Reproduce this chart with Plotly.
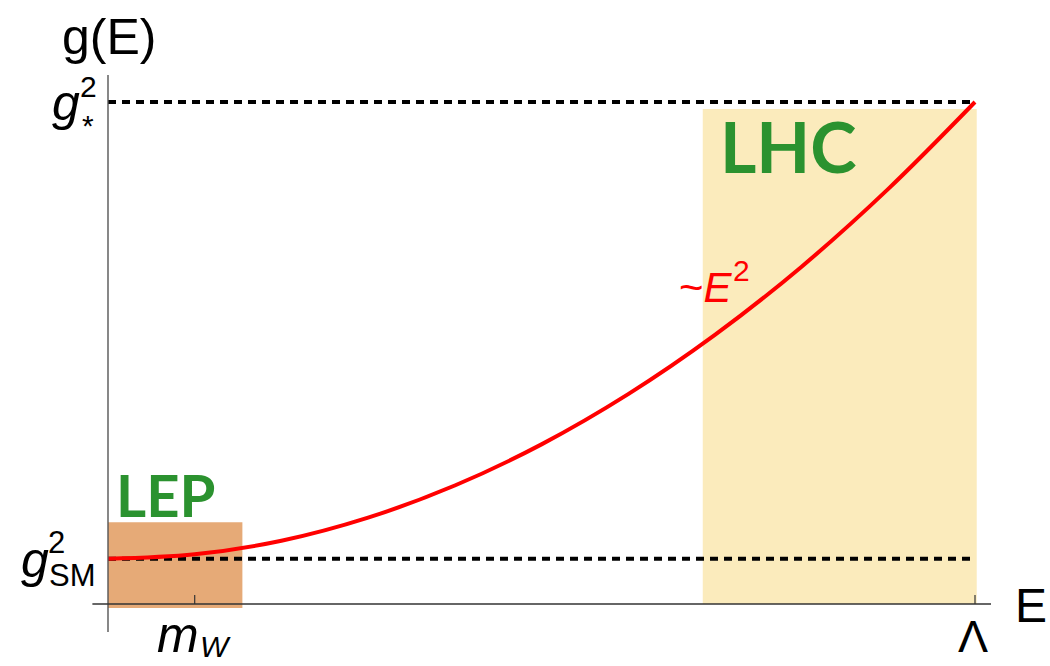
import plotly.graph_objects as go

# Energy (in units of the cutoff Lambda) and coupling strength g(E)
energy = [0.0, 0.1, 0.2, 0.3, 0.4, 0.5, 0.6, 0.7, 0.8, 0.9, 1.0]
coupling = [0.09, 0.099, 0.126, 0.172, 0.236, 0.318, 0.418, 0.536, 0.672, 0.827, 1.0]

g_sm = 0.09          # g_SM^2 level
g_star = 1.0         # g_*^2 level
e_mw = 0.1           # m_W tick
e_lambda = 1.0       # Lambda tick

# Experimental reach regions: (x0, x1, y0, y1)
lep_region = (0.0, 0.155, -0.008, 0.163)
lhc_region = (0.686, 1.002, 0.0, 0.986)

fig = go.Figure()

fig.add_trace(go.Scatter(
    x=energy, y=coupling, mode="lines",
    line=dict(color="#ff0000", width=4, shape="spline"),
    hoverinfo="skip", showlegend=False,
))

shapes = []
# shaded regions
shapes.append(dict(type="rect", xref="x", yref="y", layer="below",
                   x0=lep_region[0], x1=lep_region[1], y0=lep_region[2], y1=lep_region[3],
                   fillcolor="#e6aa77", line=dict(width=0)))
shapes.append(dict(type="rect", xref="x", yref="y", layer="below",
                   x0=lhc_region[0], x1=lhc_region[1], y0=lhc_region[2], y1=lhc_region[3],
                   fillcolor="#fbebbc", line=dict(width=0)))
# dashed reference levels
for level in (g_sm, g_star):
    shapes.append(dict(type="line", xref="x", yref="y", layer="below",
                       x0=0.0, x1=e_lambda, y0=level, y1=level,
                       line=dict(color="black", width=4, dash="8px,6px")))
# axes
shapes.append(dict(type="line", xref="x", yref="y", x0=0.0, x1=0.0, y0=-0.056, y1=1.054,
                   line=dict(color="#555555", width=1.4)))
shapes.append(dict(type="line", xref="x", yref="y", x0=-0.018, x1=1.0185, y0=0.0, y1=0.0,
                   line=dict(color="#333333", width=1.4)))
# ticks
for t in (e_mw, e_lambda):
    shapes.append(dict(type="line", xref="x", yref="y", x0=t, x1=t, y0=0.0, y1=0.018,
                       line=dict(color="#333333", width=1.2)))

fig.update_layout(shapes=shapes)

FONT = "Liberation Sans, Arial, sans-serif"
GREEN = "#2b922f"


def label(text, x, y, size, color="black", xanchor="center", yanchor="middle",
          family=FONT, weight="normal"):
    fig.add_annotation(x=x, y=y, xref="x", yref="y", text=text, showarrow=False,
                       xanchor=xanchor, yanchor=yanchor,
                       font=dict(family=family, size=size, color=color, weight=weight))


def px_x(p):
    return (p - 108) / 867.0


def px_y(p):
    return (604 - p) / 502.0


# axis titles
label("g(E)", px_x(109), px_y(37), 50)
label("E", px_x(1031), px_y(605), 48)

# x tick labels
label("Λ", px_x(973), px_y(636), 45)
label("<i>m</i>", px_x(178), px_y(635), 50)
label("<i>W</i>", px_x(215), px_y(646), 30)

# y tick labels
label("<i>g</i>", px_x(66), px_y(103), 50)
label("2", px_x(88), px_y(86), 30)
label("*", px_x(88), px_y(125), 30)
label("<i>g</i>", px_x(35), px_y(560), 50)
label("2", px_x(56), px_y(542), 31)
label("SM", px_x(72), px_y(575), 31)

# region and curve labels
label("LEP", px_x(165), px_y(494), 58, color=GREEN, family="Lato, sans-serif", weight="bold")
label("LHC", px_x(788), px_y(146), 70, color=GREEN, family="Lato, sans-serif", weight="bold")
label("~<i>E</i>", px_x(706), px_y(287), 42, color="#ff0000")
label("2", px_x(741), px_y(270), 30, color="#ff0000")

fig.update_layout(
    width=1050, height=666,
    margin=dict(l=0, r=0, t=0, b=0),
    paper_bgcolor="white", plot_bgcolor="white",
    xaxis=dict(range=[px_x(0), px_x(1050)], visible=False, fixedrange=True),
    yaxis=dict(range=[px_y(666), px_y(0)], visible=False, fixedrange=True),
    showlegend=False,
)

fig.write_html("out.html")
